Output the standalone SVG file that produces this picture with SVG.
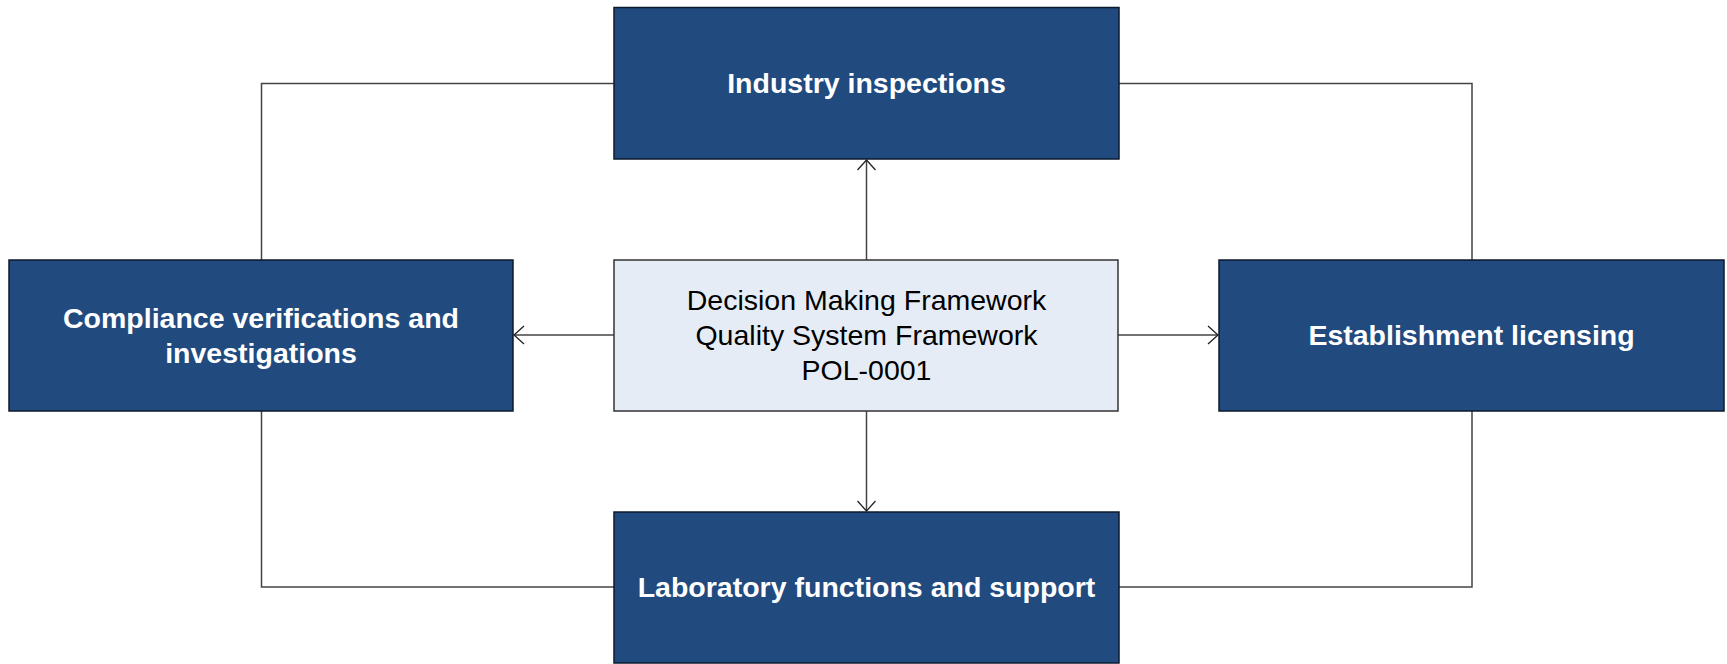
<svg xmlns="http://www.w3.org/2000/svg" width="1727" height="664" viewBox="0 0 1727 664">
<style>
.box{fill:#214a7f;stroke:#0d1a2c;stroke-width:1.5}
.ctr{fill:#e6ecf6;stroke:#333;stroke-width:1.5}
.t{font-family:"Liberation Sans",Arial,sans-serif;font-size:28.5px;font-weight:bold;fill:#fff;text-anchor:middle}
.c{font-family:"Liberation Sans",Arial,sans-serif;font-size:28.5px;fill:#000;text-anchor:middle}
.ln{fill:none;stroke:#444;stroke-width:1.5}
</style>
<defs>
<marker id="ah" viewBox="0 0 12 20" refX="11" refY="10" markerWidth="12" markerHeight="20" markerUnits="userSpaceOnUse" orient="auto">
<path d="M1,1 L11,10 L1,19" fill="none" stroke="#222" stroke-width="1.3"/>
</marker>
</defs>
<g id="connectors">
<path class="ln" d="M614,83.5 H261.5 V260"/>
<path class="ln" d="M1119,83.5 H1472 V260"/>
<path class="ln" d="M261.5,411 V587 H614"/>
<path class="ln" d="M1472,411 V587 H1119"/>
<path class="ln" d="M866.5,260 V160" marker-end="url(#ah)"/>
<path class="ln" d="M866.5,411 V511" marker-end="url(#ah)"/>
<path class="ln" d="M614,335 H514" marker-end="url(#ah)"/>
<path class="ln" d="M1118,335 H1218" marker-end="url(#ah)"/>
</g>
<g id="industry">
<rect class="box" x="614" y="7.5" width="505" height="151.5"/>
<text class="t" x="866.5" y="93">Industry inspections</text>
</g>
<g id="compliance">
<rect class="box" x="9" y="260" width="504" height="151"/>
<text class="t" x="261" y="327.5">Compliance verifications and</text>
<text class="t" x="261" y="362.7">investigations</text>
</g>
<g id="center">
<rect class="ctr" x="614" y="260" width="504" height="151"/>
<text class="c" x="866.5" y="310">Decision Making Framework</text>
<text class="c" x="866.5" y="345">Quality System Framework</text>
<text class="c" x="866.5" y="380.2">POL-0001</text>
</g>
<g id="establishment">
<rect class="box" x="1219" y="260" width="505" height="151"/>
<text class="t" x="1471.5" y="345">Establishment licensing</text>
</g>
<g id="laboratory">
<rect class="box" x="614" y="512" width="505" height="151"/>
<text class="t" x="866.5" y="597">Laboratory functions and support</text>
</g>
</svg>
